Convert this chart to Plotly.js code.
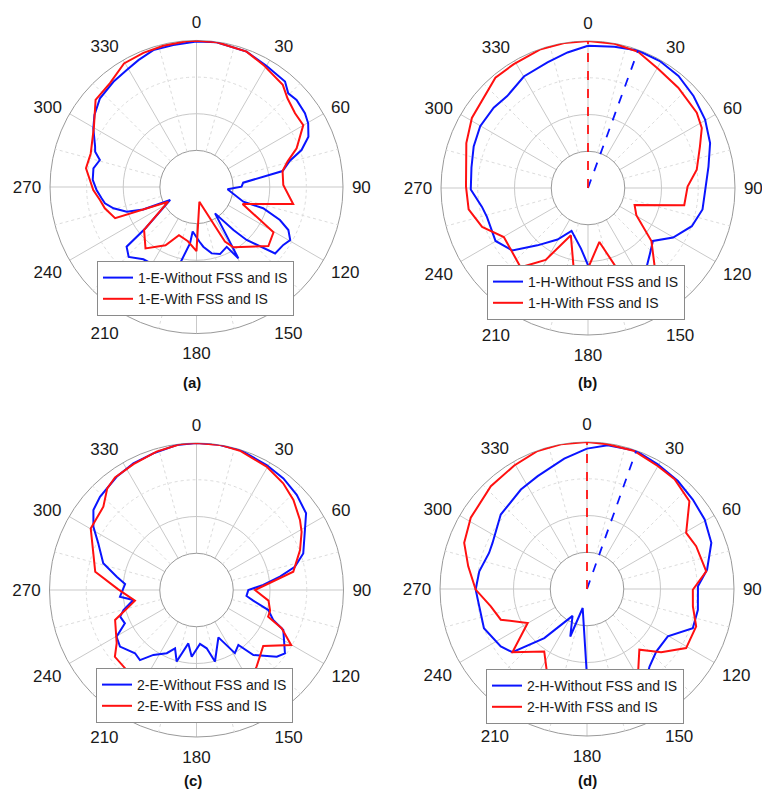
<!DOCTYPE html>
<html>
<head>
<meta charset="utf-8">
<script src="https://cdn.plot.ly/plotly-3.0.1.min.js"></script>
<style>html,body{margin:0;padding:0;background:#fff;}#chart{width:762px;height:790px;}</style>
</head>
<body>
<div id="chart"></div>
<script>
// ---- angular ticks ----
const angTicks = [0, 30, 60, 90, 120, 150, 180, 210, 240, 270, 300, 330];
const angLabels = ['0', '30', '60', '90', '120', '150', '180', '210', '240', '270', '300', '330'];
const minorTicks = [15, 45, 75, 105, 135, 165, 195, 225, 255, 285, 315, 345];

// ---- legend names ----
const namesA = ['1-E-Without FSS and IS', '1-E-With FSS and IS'];
const namesB = ['1-H-Without FSS and IS', '1-H-With FSS and IS'];
const namesC = ['2-E-Without FSS and IS', '2-E-With FSS and IS'];
const namesD = ['2-H-Without FSS and IS', '2-H-With FSS and IS'];
const panelLabels = ['(a)', '(b)', '(c)', '(d)'];

// ---- (a) 1-E ----
const aBlueTheta = [0, 7.9, 20.3, 30.1, 40, 44.4, 49, 55.8, 60.3, 65.8, 70.6, 74.3, 79.5, 84.7, 89.6, 94.3, 107.4, 107.7, 111.6, 115.1, 119.5, 123.7, 130.2, 136.6, 139.4, 144.9, 149.6, 153.2, 160.7, 167.1, 173.5, 177, 184.9, 186.6, 193.4, 204.2, 216.3, 224.1, 229.5, 231, 243.9, 247.2, 250.5, 255.6, 259.9, 263.2, 268.3, 273.9, 280.3, 285.6, 289.2, 291.7, 299.6, 305.2, 312.6, 321.7, 329.2, 335.4, 342.5, 350.7, 360];
const aBlueR = [-0.3, -0.1, -0.6, -1.8, -2.4, -4.2, -3.8, -4.2, -4.9, -6.5, -9.6, -13.5, -16.1, -27.2, -27.7, -31.5, -26.6, -20.9, -15.5, -12.3, -10.6, -11.5, -11.9, -20.1, -24.5, -31.2, -17.4, -21.7, -20.6, -21.4, -23.6, -25.1, -27.8, -24.5, -16.7, -15.7, -15.5, -13.4, -14.9, -22, -32, -24.2, -19.8, -16.6, -14.6, -13.9, -12.7, -11.6, -11.4, -12.6, -10.7, -10.2, -7.6, -5.9, -4.2, -3.4, -2.8, -1.9, -0.8, -0.7, -0.3];
const aRedTheta = [0, 8, 20.3, 28.7, 40.2, 45.7, 53.2, 59.9, 68.9, 74.4, 79.5, 88.7, 100, 110.2, 120.5, 129.4, 148.6, 152.5, 169, 180, 189, 200, 208, 219.7, 230.7, 242.5, 249, 256.9, 262.3, 268.3, 279.6, 287.6, 300.5, 310.8, 320.2, 329.6, 338.4, 346.8, 356.1, 360];
const aRedR = [-0.1, -0.1, -0.6, -2.0, -3.5, -5.3, -6.4, -6.3, -10.7, -14.2, -16.1, -16.3, -13.2, -26.6, -15.6, -14.6, -20.7, -23.2, -35.9, -22.5, -25, -26, -22, -18.2, -21.5, -31.3, -16.2, -14.3, -13.4, -11.8, -9.4, -9.7, -7.5, -3.6, -3.1, -0.9, -0.6, -0.4, -0.1, -0.1];

// ---- (b) 1-H ----
const bBlueTheta = [0, 10.6, 20, 29.5, 38.9, 48.9, 59.7, 69.8, 79.9, 91, 100.6, 110.2, 120.2, 129.2, 136.8, 145.7, 160, 170, 177.5, 186.6, 201, 210.6, 221.4, 230.5, 240.2, 254.1, 259.9, 269.3, 280, 290, 299.8, 310.4, 318.7, 330.1, 342.1, 351.4, 360];
const bBlueR = [-1.3, -0.9, -0.2, -0.3, -0.8, -1.9, -3.1, -4.6, -6.7, -8.1, -8.3, -9.9, -13.2, -17.2, -15.4, -12.3, -12.5, -14.5, -16.6, -23.4, -27.5, -23.7, -19.2, -13.3, -11, -11.4, -10.7, -8.1, -7.8, -6.9, -6.2, -6.3, -6.7, -5.0, -4.1, -2.7, -1.3];
const bRedTheta = [0, 10.4, 20.2, 30.6, 42, 55.3, 62.2, 69.6, 80.5, 89.2, 100.1, 110.1, 119.4, 129.9, 139.9, 149.5, 160, 168.1, 180.2, 190.2, 199.9, 210.5, 220.4, 239.8, 249.8, 259.8, 270.6, 290.3, 301.1, 320, 329.1, 341.2, 350.7, 360];
const bRedR = [0, -0.1, -0.5, -2.4, -3.3, -4.0, -5.0, -7.5, -10, -12.9, -13.4, -26.5, -24.9, -17.5, -11.8, -15, -16.3, -25, -18, -17.9, -26.3, -17.3, -11.7, -13.5, -9.3, -7, -6.8, -4.7, -3.1, -0.8, -0.7, -0.1, 0, 0];

// ---- (c) 2-E ----
const cBlueTheta = [0, 7.9, 17.3, 29.3, 37.9, 46.5, 55, 61.1, 71.1, 76.7, 80.9, 85.7, 90, 96.8, 100.6, 105.6, 111.3, 114.7, 125.6, 129.7, 138.8, 142.7, 148.7, 155.2, 165.5, 170.1, 176.3, 184.1, 188.7, 195.5, 200.2, 205.2, 213.6, 218.9, 224.2, 233.5, 239.7, 245, 250.8, 254.7, 261, 265, 274.8, 279.5, 286, 295.4, 301.5, 307.8, 314, 324.8, 333.5, 342.5, 352.2, 360];
const cBlueR = [0, 0, -0.1, -1.0, -1.5, -2.4, -3.6, -6.3, -9.3, -12.5, -17, -21.8, -25.9, -26.3, -24.3, -19.7, -17.6, -14, -10.4, -11.6, -16.5, -21.2, -19.9, -25.8, -19.9, -23.9, -25.3, -21.8, -25.3, -19.8, -23.1, -21, -18.8, -15.5, -16, -14.1, -14.8, -18.5, -18, -19.4, -22.6, -19.1, -20.5, -18, -13.6, -10.4, -7.1, -4.5, -3.5, -2.3, -1.5, -1.0, -0.2, 0];
const cRedTheta = [0, 9.2, 17.3, 29.6, 39.1, 47.1, 55.9, 61, 68.9, 79.3, 90, 98.4, 105.7, 110.4, 114.2, 120.2, 130, 141.9, 149.3, 160, 170, 180, 190, 200, 210, 218.4, 230.7, 236.3, 249.8, 260.2, 270.5, 280.2, 300.2, 311.8, 318.7, 324.1, 333.4, 343.9, 353.5, 360];
const cRedR = [0, 0, -0.3, -1.4, -2.6, -4.0, -6.0, -7.3, -9.8, -13.2, -24.1, -20.2, -19.2, -19.2, -14.6, -10.2, -16.3, -13.5, -11.5, -13, -15, -16, -15, -14, -12, -10.9, -11.3, -13.9, -16.4, -23, -18.7, -12, -6.7, -6, -3.2, -2.2, -1.7, -0.8, -0.1, 0];

// ---- (d) 2-H ----
const dBlueTheta = [0, 8.2, 19.6, 29.6, 40.1, 49.8, 59.4, 69.6, 80.8, 88.6, 100.6, 110.3, 120.4, 132.1, 141.1, 146.7, 160, 172, 180, 192.8, 199.4, 208.3, 221, 229.7, 236.3, 249.2, 269.7, 279.3, 290.2, 296, 310.8, 326.4, 336.4, 350.1, 360];
const dBlueR = [-1.8, -0.5, -0.1, -1.0, -1.6, -2.3, -2.8, -3.9, -6.9, -9.8, -9.3, -9.3, -14.5, -14.6, -12.9, -10.7, -12, -14, -16, -34.7, -26.3, -31.7, -22.3, -13.4, -11.8, -10, -9.7, -10.3, -11.6, -11.4, -9, -7.5, -6.5, -4, -1.8];
const dRedTheta = [0, 8.1, 19, 29.9, 38.6, 49.4, 60.5, 68.6, 81.6, 90.4, 99.3, 108.9, 120.8, 130.4, 139.2, 150.3, 160, 170.8, 180, 203.8, 214.4, 229.7, 240.2, 250.4, 259.8, 269.7, 280.8, 290.6, 301.5, 316.9, 329.5, 340.3, 349.8, 360];
const dRedR = [0, -0.2, -0.3, -1.4, -1.8, -3.3, -9, -8.1, -7.2, -11.2, -10.8, -8.6, -8.6, -13.5, -18.2, -12.1, -14.5, -16.1, -16.2, -13.5, -19.4, -13.4, -21.4, -15.1, -13.4, -9.7, -7.1, -4.3, -2.9, -1.7, -1.0, -0.1, 0, 0];

// ---- styling / layout config ----
const FONT = 'Arial, "Liberation Sans", sans-serif';
const BLUE = '#0a14ff';
const RED = '#ff1010';
const GRID = '#c9c9c9';
const GRID_MINOR = '#dcdcdc';

const panels = [
  {names: namesA, blue: [aBlueTheta, aBlueR], red: [aRedTheta, aRedR], dashed: false,
   dom: {x: [50 / 762, 343 / 762], y: [1 - 333.5 / 790, 1 - 40.5 / 790]},
   leg: {x: 97 / 762, y: 1 - 261 / 790}, lab: {x: 192 / 762, y: 1 - 383 / 790}},
  {names: namesB, blue: [bBlueTheta, bBlueR], red: [bRedTheta, bRedR], dashed: true,
   dom: {x: [441 / 762, 735 / 762], y: [1 - 335 / 790, 1 - 41 / 790]},
   leg: {x: 487 / 762, y: 1 - 265 / 790}, lab: {x: 587 / 762, y: 1 - 383 / 790}},
  {names: namesC, blue: [cBlueTheta, cBlueR], red: [cRedTheta, cRedR], dashed: false,
   dom: {x: [49.5 / 762, 343.5 / 762], y: [1 - 737 / 790, 1 - 443 / 790]},
   leg: {x: 96 / 762, y: 1 - 668 / 790}, lab: {x: 193 / 762, y: 1 - 780 / 790}},
  {names: namesD, blue: [dBlueTheta, dBlueR], red: [dRedTheta, dRedR], dashed: true,
   dom: {x: [440 / 762, 734 / 762], y: [1 - 736 / 790, 1 - 442 / 790]},
   leg: {x: 486 / 762, y: 1 - 669 / 790}, lab: {x: 587 / 762, y: 1 - 780 / 790}}
];

const data = [];
const layout = {
  width: 762, height: 790,
  margin: {l: 0, r: 0, t: 0, b: 0},
  paper_bgcolor: '#ffffff',
  font: {family: FONT, color: '#222'},
  showlegend: true,
  annotations: []
};

function sub(n) { return n === 1 ? 'polar' : 'polar' + n; }
function argmax(arr) { let k = 0; for (let i = 1; i < arr.length; i++) if (arr[i] > arr[k]) k = i; return k; }

panels.forEach((p, i) => {
  const gId = sub(3 * i + 1), mId = sub(3 * i + 2), dId = sub(3 * i + 3);
  const legId = i === 0 ? 'legend' : 'legend' + (i + 1);

  layout[gId] = {
    domain: p.dom, hole: 0.25, bgcolor: '#ffffff',
    radialaxis: {range: [-30, 0], tickvals: [-20], showticklabels: false, ticks: '', showline: false,
                 gridcolor: GRID, gridwidth: 1},
    angularaxis: {rotation: 90, direction: 'clockwise', tickmode: 'array', tickvals: angTicks, ticktext: angLabels,
                  tickfont: {family: FONT, size: 17, color: '#1a1a1a'}, gridcolor: GRID, gridwidth: 1,
                  showline: true, linecolor: '#9a9a9a', linewidth: 1,
                  ticks: 'outside', ticklen: 5, tickcolor: 'rgba(0,0,0,0)'}
  };
  layout[mId] = {
    domain: p.dom, hole: 0.25, bgcolor: 'rgba(0,0,0,0)',
    radialaxis: {range: [-30, 0], tickvals: [-10], showticklabels: false, ticks: '', showline: false,
                 gridcolor: GRID_MINOR, griddash: 'dot', gridwidth: 1},
    angularaxis: {rotation: 90, direction: 'clockwise', tickmode: 'array', tickvals: minorTicks,
                  showticklabels: false, ticks: '', showline: false,
                  gridcolor: GRID_MINOR, griddash: 'dot', gridwidth: 1}
  };
  layout[dId] = {
    domain: p.dom, hole: 0, bgcolor: 'rgba(0,0,0,0)',
    radialaxis: {range: [-40, 0], visible: false},
    angularaxis: {rotation: 90, direction: 'clockwise', visible: false}
  };

  // invisible carriers so that the grid subplots are built
  [gId, mId].forEach(s => data.push({type: 'scatterpolar', mode: 'lines', subplot: s, r: p.blue[1], theta: p.blue[0],
    opacity: 0, showlegend: false, hoverinfo: 'skip', line: {width: 1}}));

  data.push({type: 'scatterpolar', mode: 'lines', subplot: dId, legend: legId, name: p.names[0],
    r: p.blue[1], theta: p.blue[0], line: {color: BLUE, width: 2}});
  data.push({type: 'scatterpolar', mode: 'lines', subplot: dId, legend: legId, name: p.names[1],
    r: p.red[1], theta: p.red[0], line: {color: RED, width: 2}});

  if (p.dashed) {
    [[p.blue, BLUE], [p.red, RED]].forEach(([s, c]) => {
      const k = argmax(s[1]);
      data.push({type: 'scatterpolar', mode: 'lines', subplot: dId, showlegend: false, hoverinfo: 'skip',
        r: [-40, s[1][k]], theta: [s[0][k], s[0][k]], line: {color: c, width: 1.8, dash: 'dash'}});
    });
  }

  layout[legId] = {
    x: p.leg.x, y: p.leg.y, xanchor: 'left', yanchor: 'top',
    bgcolor: '#ffffff', bordercolor: '#8a8a8a', borderwidth: 1,
    font: {family: FONT, size: 14, color: '#1a1a1a'}, itemwidth: 30, tracegroupgap: 0
  };

  layout.annotations.push({xref: 'paper', yref: 'paper', x: p.lab.x, y: p.lab.y, xanchor: 'center', yanchor: 'middle',
    text: '<b>' + panelLabels[i] + '</b>', showarrow: false, font: {family: FONT, size: 15, color: '#111'}});
});

Plotly.newPlot('chart', data, layout, {staticPlot: true, displayModeBar: false});
</script>
</body>
</html>
